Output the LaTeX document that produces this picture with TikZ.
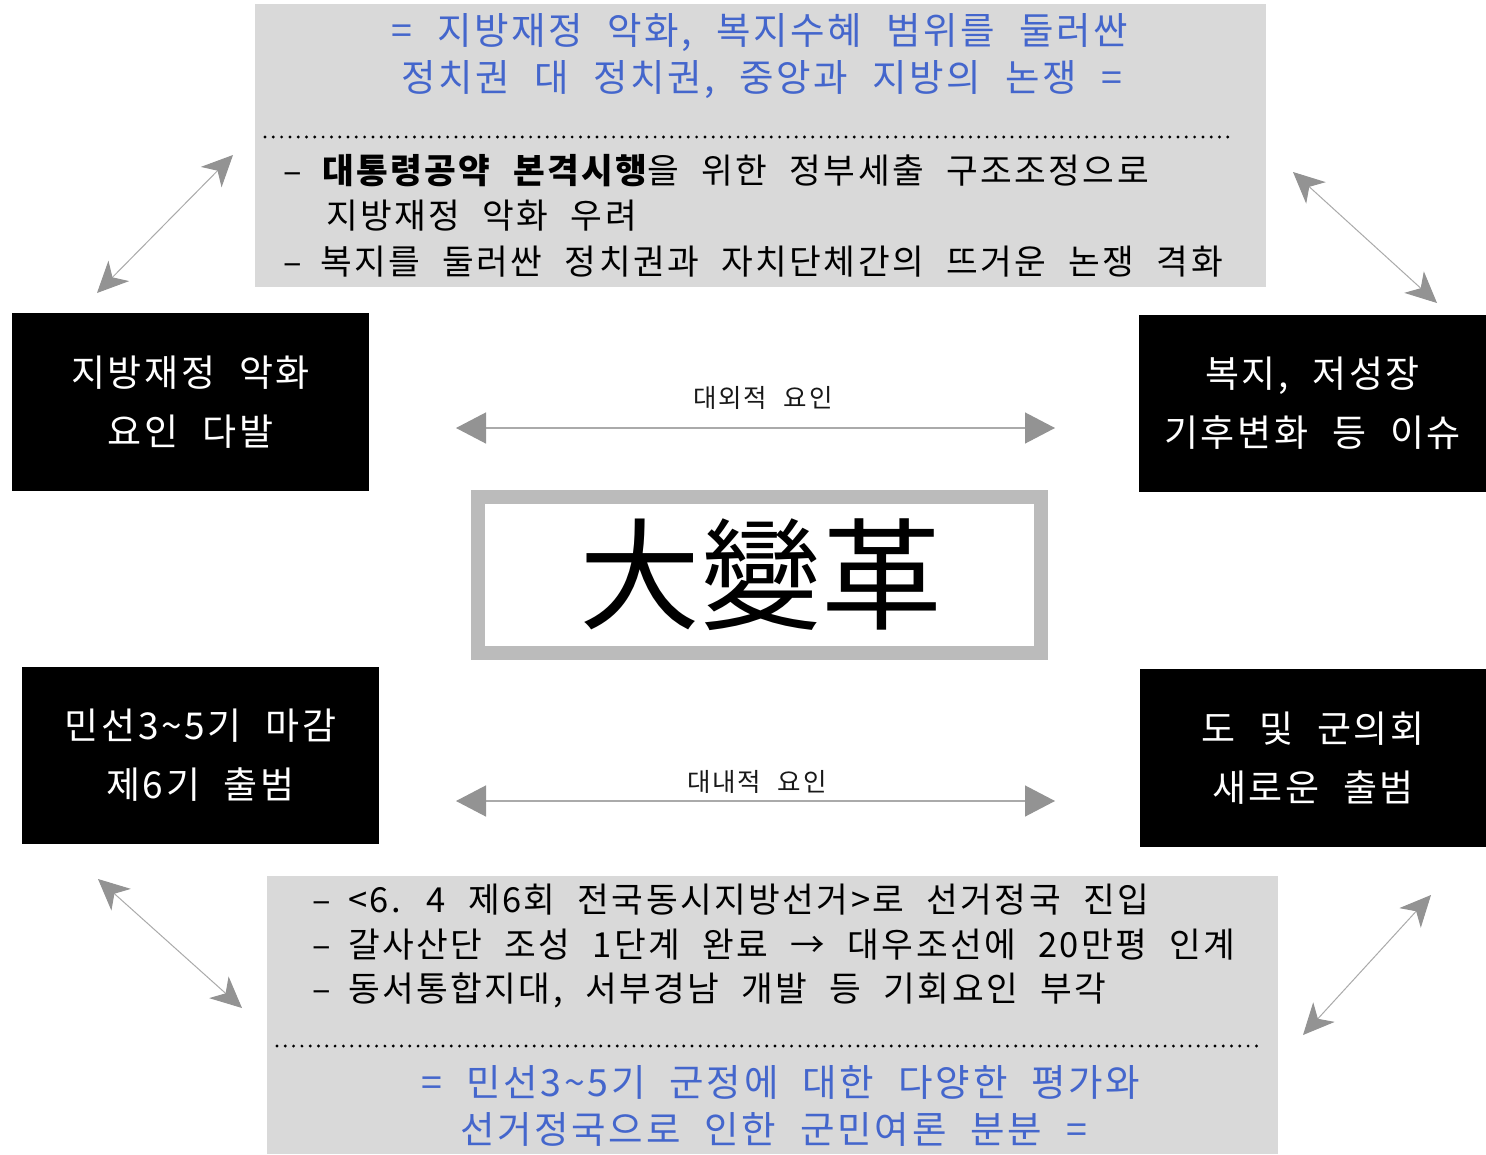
\documentclass[tikz,border=0pt]{standalone}
\usepackage{fontspec}
\setmainfont{Noto Sans CJK KR}[WordSpace=2.2,LetterSpace=7]
\newfontfamily\hanjafont{Noto Sans CJK KR}
\usetikzlibrary{arrows.meta}
\definecolor{boxgray}{HTML}{D9D9D9}
\definecolor{framegray}{HTML}{BBBBBB}
\definecolor{linegray}{HTML}{AAAAAA}
\definecolor{headgray}{HTML}{939393}
\definecolor{hblue}{HTML}{4466CC}
\begin{document}
\begin{tikzpicture}[x=1pt,y=-1pt,
  blackbox/.style={fill=black,text=white,inner sep=0pt,align=center,
    font=\fontsize{37}{59}\selectfont},
  graybox/.style={fill=boxgray,inner sep=0pt,anchor=north west},
  bluetext/.style={text=hblue,inner sep=0pt,font=\fontsize{37.5}{44}\selectfont},
  bodytext/.style={text=black,inner sep=0pt,anchor=west,font=\fontsize{34.5}{40}\selectfont},
  dotline/.style={line width=3.2pt,dash pattern=on 0pt off 8.3pt,line cap=round,black},
  harrow/.style={draw=linegray,line width=1.3pt,
    {Triangle[length=30pt,width=31pt,color=headgray]}-{Triangle[length=30pt,width=31pt,color=headgray]}},
  darrow/.style={draw=linegray,line width=1pt,
    {Stealth[length=31pt,width=29pt,inset=9pt,color=headgray]}-{Stealth[length=31pt,width=29pt,inset=9pt,color=headgray]}},
  hlabel/.style={inner sep=0pt,font=\fontsize{25.5}{30}\selectfont,text=black!90}]
\useasboundingbox[fill=white] (0,0) rectangle (1486,1154);

% top gray box
\node[graybox,minimum width=1011pt,minimum height=283pt] (topbox) at (255,4) {};
\node[bluetext] (t1) at (760,33) {= 지방재정 악화, 복지수혜 범위를 둘러싼};
\node[bluetext] (t2) at (762,80) {정치권 대 정치권, 중앙과 지방의 논쟁 =};
\coordinate (td1) at (265,137);
\coordinate (td2) at (1235,137);
\draw[dotline] (td1) -- (td2);
\node[bodytext] (b1) at (283,171) {\makebox[39pt][l]{–}{\bfseries 대통령공약 본격시행}을 위한 정부세출 구조조정으로};
\node[bodytext] (b2) at (326,216) {지방재정 악화 우려};
\node[bodytext] (b3) at (283,262) {\makebox[37pt][l]{–}복지를 둘러싼 정치권과 자치단체간의 뜨거운 논쟁 격화};

% bottom gray box
\node[graybox,minimum width=1011pt,minimum height=278pt] (botbox) at (267,876) {};
\node[bodytext] (c1) at (312,900) {\makebox[36pt][l]{–}<6. 4 제6회 전국동시지방선거>로 선거정국 진입};
\node[bodytext] (c2) at (312,945) {\makebox[36pt][l]{–}갈사산단 조성 1단계 완료 → 대우조선에 20만평 인계};
\node[bodytext] (c3) at (312,990) {\makebox[36pt][l]{–}동서통합지대, 서부경남 개발 등 기회요인 부각};
\coordinate (bd1) at (277,1046);
\coordinate (bd2) at (1258,1046);
\draw[dotline] (bd1) -- (bd2);
\node[bluetext] (u1) at (781,1082) {= 민선3\textasciitilde5기 군정에 대한 다양한 평가와};
\node[bluetext] (u2) at (774,1129) {선거정국으로 인한 군민여론 분분 =};

% black boxes
\node[blackbox,minimum width=357pt,minimum height=178pt] (tl) at (190.5,402) {지방재정 악화\\요인 다발};
\node[blackbox,minimum width=347pt,minimum height=177pt] (tr) at (1312.5,403.5) {복지, 저성장\\기후변화 등 이슈};
\node[blackbox,minimum width=357pt,minimum height=177pt] (bl) at (200.5,755.5) {민선3\textasciitilde5기 마감\\제6기 출범};
\node[blackbox,minimum width=346pt,minimum height=178pt] (br) at (1313,758) {도 및 군의회\\새로운 출범};

% center box
\draw[framegray,line width=14pt,fill=white] (478,497) rectangle (1041,653);
\node[inner sep=0pt,font=\hanjafont\fontsize{121}{123}\selectfont] (center) at (761,575) {大變革};

% horizontal arrows
\coordinate (ha1) at (456,428);
\coordinate (ha2) at (1055,428);
\draw[harrow] (ha1) -- (ha2);
\node[hlabel] (hl1) at (763,398) {대외적 요인};
\coordinate (hb1) at (456,801);
\coordinate (hb2) at (1055,801);
\draw[harrow] (hb1) -- (hb2);
\node[hlabel] (hl2) at (757,782) {대내적 요인};

% diagonal arrows
\coordinate (d1a) at (97,293);
\coordinate (d1b) at (233,155);
\draw[darrow] (d1a) -- (d1b);
\coordinate (d2a) at (1293,172);
\coordinate (d2b) at (1437,303);
\draw[darrow] (d2a) -- (d2b);
\coordinate (d3a) at (98,879);
\coordinate (d3b) at (242,1008);
\draw[darrow] (d3a) -- (d3b);
\coordinate (d4a) at (1431,895);
\coordinate (d4b) at (1303,1035);
\draw[darrow] (d4a) -- (d4b);
\end{tikzpicture}
\end{document}
